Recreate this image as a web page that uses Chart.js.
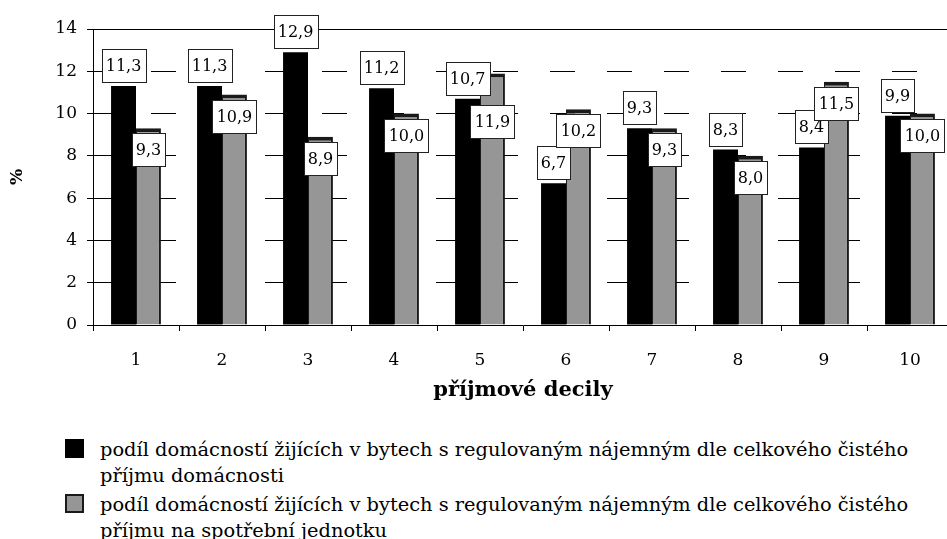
<!DOCTYPE html>
<html>
<head>
<meta charset="utf-8">
<script src="https://cdn.jsdelivr.net/npm/chart.js@4"></script>
<style>
  html, body { margin: 0; padding: 0; background: #fff; overflow: hidden; }
  body { width: 947px; height: 539px; position: relative; font-family: "DejaVu Serif", serif; }
  #chart { position: absolute; left: 0; top: 0; }
  #legend { position: absolute; left: 65px; top: 437px; width: 870px; font-size: 19.4px; line-height: 26px; color: #000; }
  .item { position: relative; padding-left: 35px; margin-bottom: 3px; }
  .sw { position: absolute; left: 0; top: 2px; width: 19px; height: 19px; box-sizing: border-box; }
</style>
</head>
<body>
<canvas id="chart" width="960" height="410"></canvas>
<div id="legend"></div>
<script>
// decily prijmu, hodnoty v %
const decily = ['1', '2', '3', '4', '5', '6', '7', '8', '9', '10'];
const podilDomacnost = [11.3, 11.3, 12.9, 11.2, 10.7, 6.7, 9.3, 8.3, 8.4, 9.9];
const podilSpotrebni = [9.3, 10.9, 8.9, 10.0, 11.9, 10.2, 9.3, 8.0, 11.5, 10.0];
const nazvyRad = [
  'podíl domácností žijících v bytech s regulovaným nájemným dle celkového čistého příjmu domácnosti',
  'podíl domácností žijících v bytech s regulovaným nájemným dle celkového čistého příjmu na spotřební jednotku'
];

const font = '"DejaVu Serif"';

// horni cara ramecku grafu
const frameTop = {
  id: 'frameTop',
  beforeDatasetsDraw(chart) {
    const { ctx, chartArea } = chart;
    ctx.save();
    ctx.strokeStyle = '#000';
    ctx.lineWidth = 1;
    ctx.beginPath();
    ctx.moveTo(chartArea.left, chartArea.top + 0.5);
    ctx.lineTo(chartArea.right, chartArea.top + 0.5);
    ctx.stroke();
    ctx.restore();
  }
};

// popisky hodnot v bilych rameckach
// cerne: nad sloupcem, sede: uvnitr sloupce pod hornim okrajem
const valueLabels = {
  id: 'valueLabels',
  afterDatasetsDraw(chart) {
    const ctx = chart.ctx;
    const h = 33;
    ctx.save();
    ctx.font = '16px ' + font;
    ctx.textAlign = 'center';
    ctx.textBaseline = 'middle';
    const black = chart.getDatasetMeta(0).data;
    chart.data.datasets.forEach((ds, i) => {
      chart.getDatasetMeta(i).data.forEach((bar, j) => {
        const txt = ds.data[j].toFixed(1).replace('.', ',');
        const w = Math.round(ctx.measureText(txt).width + 8);
        let top;
        if (i === 0) {
          top = bar.y - 4 - h;
        } else {
          top = bar.y + 5;
          // horni okraj by padl dovnitr cerneho popisku -> posunout pod nej
          const bBottom = black[j].y - 4;
          const bTop = bBottom - h;
          if (top > bTop && top < bBottom) top = bBottom + 10;
        }
        top = Math.round(top) + 0.5;
        const left = Math.round(bar.x - w / 2) + 0.5;
        ctx.fillStyle = '#fff';
        ctx.fillRect(left, top, w, h);
        ctx.strokeStyle = '#222';
        ctx.lineWidth = 1;
        ctx.strokeRect(left, top, w, h);
        ctx.fillStyle = '#000';
        ctx.fillText(txt, bar.x, top + h / 2 + 1);
      });
    });
    ctx.restore();
  }
};

const chart = new Chart(document.getElementById('chart'), {
  type: 'bar',
  data: {
    labels: decily,
    datasets: [{
      label: nazvyRad[0],
      data: podilDomacnost,
      backgroundColor: '#000',
      borderWidth: 0,
      categoryPercentage: 0.58,
      barPercentage: 1
    }, {
      label: nazvyRad[1],
      data: podilSpotrebni,
      backgroundColor: '#969696',
      borderColor: '#1a1a1a',
      borderWidth: { top: 4, right: 2, left: 1, bottom: 0 },
      borderSkipped: 'bottom',
      categoryPercentage: 0.58,
      barPercentage: 1
    }]
  },
  options: {
    responsive: false,
    animation: false,
    layout: { padding: { top: 29, right: 7, left: 0, bottom: 0 } },
    plugins: {
      legend: { display: false },
      tooltip: { enabled: false }
    },
    scales: {
      x: {
        grid: { offset: true, drawOnChartArea: false, tickLength: 6, color: '#000' },
        border: { color: '#000', width: 1 },
        ticks: { font: { family: font, size: 17 }, color: '#000', padding: 19 },
        title: {
          display: true,
          text: 'příjmové decily',
          font: { family: font, size: 21, weight: 'bold' },
          color: '#000',
          padding: { top: 0, bottom: 7 }
        },
        afterFit: s => { s.height = 85; }
      },
      y: {
        min: 0,
        max: 14,
        ticks: { stepSize: 2, font: { family: font, size: 17 }, color: '#000', padding: 10 },
        grid: {
          color: c => (c.tick && (c.tick.value === 0 || c.tick.value === 14)) ? 'rgba(0,0,0,0)' : '#000',
          tickColor: '#000',
          tickLength: 6
        },
        border: { color: '#000', width: 1, dash: [25, 32] },
        title: {
          display: true,
          text: '%',
          font: { family: font, size: 17, weight: 'bold' },
          color: '#000',
          padding: { top: 7, bottom: 0 }
        },
        afterFit: s => { s.width = 93; }
      }
    }
  },
  plugins: [frameTop, valueLabels]
});

// legenda pod grafem
const legend = document.getElementById('legend');
chart.data.datasets.forEach(ds => {
  const item = document.createElement('div');
  item.className = 'item';
  const sw = document.createElement('span');
  sw.className = 'sw';
  sw.style.background = ds.backgroundColor;
  sw.style.border = ds.borderWidth ? '2px solid #1a1a1a' : 'none';
  item.appendChild(sw);
  item.appendChild(document.createTextNode(ds.label));
  legend.appendChild(item);
});
</script>
</body>
</html>
